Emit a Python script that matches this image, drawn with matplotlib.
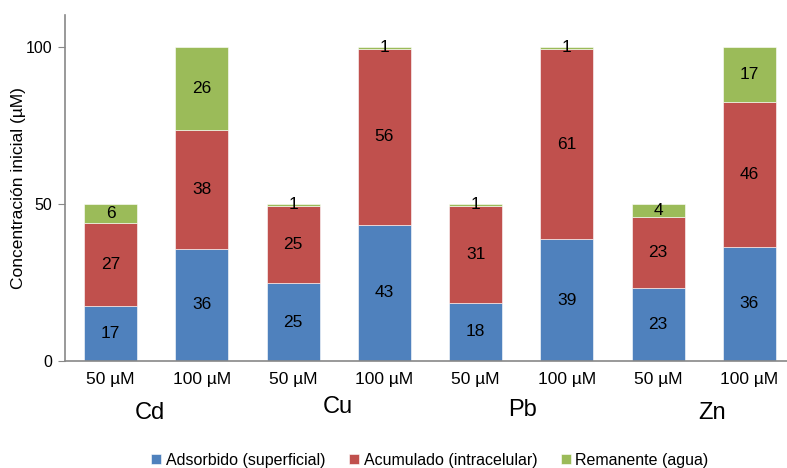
import matplotlib.pyplot as plt
import numpy as np

plt.rcParams['font.family'] = ['Liberation Sans', 'DejaVu Sans']

# data
metals = ["Cd", "Cu", "Pb", "Zn"]
conc_labels = ["50 µM", "100 µM"] * 4
adsorbido = [17.4, 35.7, 24.8, 43.4, 18.5, 38.8, 23.2, 36.4]
acumulado = [26.6, 37.9, 24.6, 56.0, 30.9, 60.6, 22.7, 46.2]
remanente = [6.0, 26.4, 0.6, 0.6, 0.6, 0.6, 4.1, 17.4]
series_names = ["Adsorbido (superficial)", "Acumulado (intracelular)", "Remanente (agua)"]
colors = ["#4F81BD", "#C0504D", "#9BBB59"]

fig = plt.figure(figsize=(7.87, 4.68), dpi=100)
ax = fig.add_axes([65 / 787, 107 / 468, 730 / 787, 346 / 468])

x = np.arange(len(conc_labels))
bottom = np.zeros(len(x))
for vals, name, col in zip([adsorbido, acumulado, remanente], series_names, colors):
    vals = np.array(vals)
    ax.bar(x, vals, 0.58, bottom=bottom, color=col, label=name,
           edgecolor="white", linewidth=0.4)
    for xi, b, v in zip(x, bottom, vals):
        ax.text(xi, b + v / 2, f"{round(v):.0f}" if v >= 1 else "1",
                ha="center", va="center", fontsize=12.5, color="black")
    bottom += vals

ax.set_xlim(-0.5, len(x) - 0.5)
ax.set_ylim(0, 110.2)
ax.set_yticks([0, 50, 100])
ax.set_xticks(x)
ax.set_xticklabels(conc_labels, fontsize=12.5)
ax.tick_params(axis="x", length=0, pad=8)
ax.tick_params(axis="y", labelsize=11.5, length=5, color="#888888", pad=4)
ax.set_ylabel("Concentración inicial (µM)", fontsize=12.5)
ax.yaxis.set_label_coords(-0.053, 0.5)
for s in ["top", "right"]:
    ax.spines[s].set_visible(False)
for s in ["left", "bottom"]:
    ax.spines[s].set_color("#888888")
    ax.spines[s].set_linewidth(1.2)

# metal labels under each pair
metal_pos = [(150, 413), (338, 407), (522, 410), (712, 413)]
for m, (px, py) in zip(metals, metal_pos):
    fig.text(px / 787, 1 - py / 468, m, ha="center", va="center", fontsize=17)

fig.legend(loc="center", bbox_to_anchor=(430 / 787, 1 - 460 / 468), ncol=3,
           frameon=False, fontsize=11.5, handlelength=0.6, handleheight=0.6,
           handletextpad=0.3, columnspacing=1.5)

fig.savefig("out.png", dpi=100)
